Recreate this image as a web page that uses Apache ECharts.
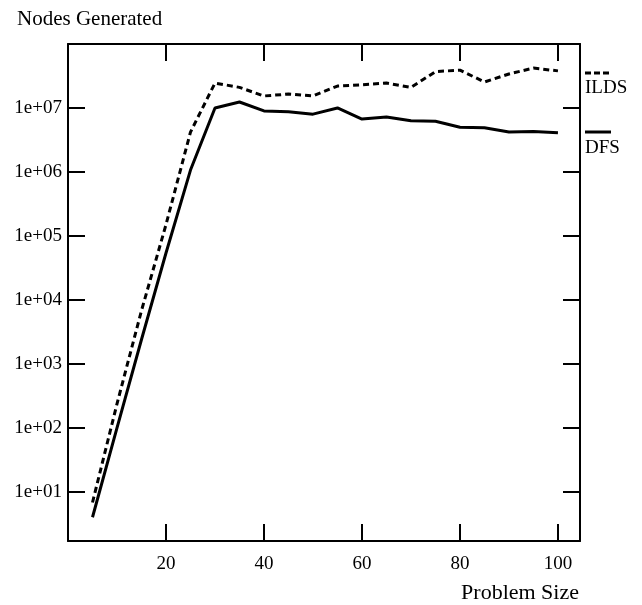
<!DOCTYPE html>
<html>
<head>
<meta charset="utf-8">
<script src="https://cdn.jsdelivr.net/npm/echarts@6/dist/echarts.min.js"></script>
<style>
html,body{margin:0;padding:0;background:#fff;}
#chart{width:642px;height:605px;}
</style>
</head>
<body>
<div id="chart"></div>
<script>
const problemSize = [5, 10, 15, 20, 25, 30, 35, 40, 45, 50, 55, 60, 65, 70, 75, 80, 85, 90, 95, 100];
const dfs = [4, 100, 2400, 5.4e4, 1.07e6, 1.0e7, 1.24e7, 9.0e6, 8.7e6, 8.0e6, 1.0e7, 6.7e6, 7.2e6, 6.3e6, 6.2e6, 5.0e6, 4.9e6, 4.2e6, 4.3e6, 4.1e6];
const ilds = [6.8, 237, 6800, 1.5e5, 4.2e6, 2.45e7, 2.1e7, 1.54e7, 1.65e7, 1.54e7, 2.2e7, 2.3e7, 2.45e7, 2.1e7, 3.7e7, 3.9e7, 2.55e7, 3.4e7, 4.2e7, 3.8e7];
const xTickLabels = [20, 40, 60, 80, 100];
const seriesNames = ['ILDS', 'DFS'];
const titleText = 'Nodes Generated';
const xTitle = 'Problem Size';

const FONT = 'Liberation Serif';
const chart = echarts.init(document.getElementById('chart'), null, {renderer: 'canvas'});

function pairs(ys) { return problemSize.map((x, i) => [x, ys[i]]); }
function yLabel(v) {
  const e = Math.round(Math.log10(v));
  return '1e+' + String(e).padStart(2, '0');
}
const axisLine = {show: true, onZero: false, lineStyle: {color: '#000', width: 2}};
const axisTick = {show: true, inside: true, length: 17, lineStyle: {color: '#000', width: 2}};

const option = {
  backgroundColor: '#fff',
  animation: false,
  title: {
    text: titleText, left: 17, top: 9, padding: 0,
    textStyle: {fontFamily: FONT, fontSize: 21, fontWeight: 'normal', color: '#000'}
  },
  grid: {left: 68, right: 62, top: 44, bottom: 64, containLabel: false},
  xAxis: [{
    type: 'value', min: 0, max: 104.5, interval: 20,
    position: 'bottom',
    axisLine: axisLine, axisTick: axisTick, splitLine: {show: false},
    axisLabel: {
      margin: 14, fontFamily: FONT, fontSize: 19, color: '#000',
      showMinLabel: false, showMaxLabel: false,
      formatter: v => xTickLabels.includes(v) ? String(v) : ''
    },
    name: xTitle, nameLocation: 'end', nameGap: 0,
    nameTextStyle: {fontFamily: FONT, fontSize: 22, color: '#000', align: 'right', verticalAlign: 'top', padding: [41, 1, 0, 0]}
  }, {
    type: 'value', min: 0, max: 104.5, interval: 20, position: 'top',
    axisLine: axisLine, axisTick: axisTick, splitLine: {show: false}, axisLabel: {show: false}
  }],
  yAxis: [{
    type: 'log', logBase: 10, min: 1.7, max: 1e8, position: 'left',
    axisLine: axisLine, axisTick: axisTick, splitLine: {show: false}, minorTick: {show: false},
    axisLabel: {
      margin: 6, fontFamily: FONT, fontSize: 19, color: '#000',
      showMinLabel: false, showMaxLabel: false, formatter: yLabel
    }
  }, {
    type: 'log', logBase: 10, min: 1.7, max: 1e8, position: 'right',
    axisLine: axisLine, axisTick: axisTick, splitLine: {show: false}, axisLabel: {show: false}
  }],
  series: [{
    name: seriesNames[0], type: 'line', data: pairs(ilds), symbol: 'none',
    xAxisIndex: 0, yAxisIndex: 0,
    lineStyle: {color: '#000', width: 3, type: [6, 4]}
  }, {
    name: seriesNames[1], type: 'line', data: pairs(dfs), symbol: 'none',
    xAxisIndex: 0, yAxisIndex: 0,
    lineStyle: {color: '#000', width: 3, type: 'solid'}
  }],
  graphic: [
    {type: 'line', shape: {x1: 585, y1: 73, x2: 609, y2: 73}, style: {stroke: '#000', lineWidth: 3, lineDash: [6, 3]}},
    {type: 'text', left: 585, top: 79, style: {text: seriesNames[0], font: '19px "Liberation Serif"', fill: '#000'}},
    {type: 'line', shape: {x1: 585, y1: 132, x2: 611, y2: 132}, style: {stroke: '#000', lineWidth: 3}},
    {type: 'text', left: 585, top: 139, style: {text: seriesNames[1], font: '19px "Liberation Serif"', fill: '#000'}}
  ]
};
chart.setOption(option);
</script>
</body>
</html>
